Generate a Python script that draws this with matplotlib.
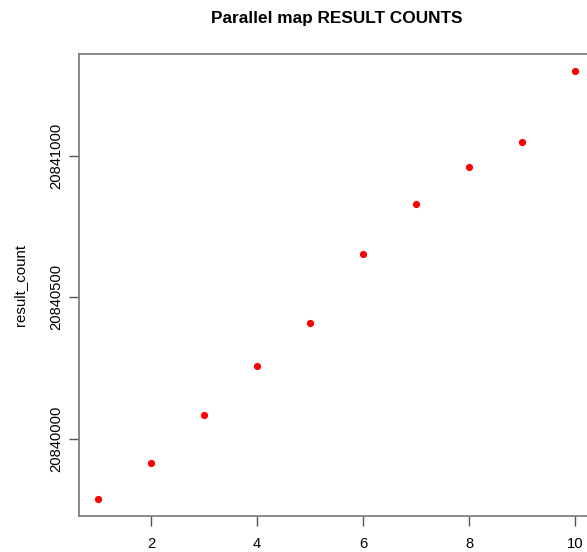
import numpy as np
import matplotlib.pyplot as plt

plt.rcParams['font.family'] = ['Liberation Sans', 'DejaVu Sans']

# run index vs result count
runs = np.arange(1, 11)
result_count = [20839787, 20839915, 20840085, 20840259, 20840408,
                20840652, 20840830, 20840961, 20841050, 20841301]
x_ticks = [2, 4, 6, 8, 10]
y_ticks = [20840000, 20840500, 20841000]

fig = plt.figure(figsize=(5.87, 5.52), dpi=100)
# the plot box runs past the right edge of the picture, like the original
ax = fig.add_axes([0.1346, 0.0652, 0.8773, 0.837])

ax.plot(runs, result_count, 'o', color='red', markersize=5.2, markeredgewidth=0)

# R style 4% padding
lo, hi = min(result_count), max(result_count)
pad = (hi - lo) * 0.04
ax.set_ylim(lo - pad, hi + pad)
ax.set_xlim(1 - 0.36, 10 + 0.36)

ax.set_xticks(x_ticks)
ax.set_xticklabels([str(t) for t in x_ticks])
ax.set_yticks(y_ticks)
ax.set_yticklabels([str(t) for t in y_ticks], rotation=90, va='center')

for s in ax.spines.values():
    s.set_color('#808080')
    s.set_linewidth(1.3)
ax.tick_params(axis='both', direction='out', length=7, width=1, color='#555555',
               labelsize=10.6)
ax.tick_params(axis='x', pad=8)
ax.tick_params(axis='y', pad=4)

ax.set_ylabel('result_count', fontsize=10.8, labelpad=16)
ax.set_title('Parallel map RESULT COUNTS', fontsize=12.4, fontweight='bold', pad=22)

plt.savefig("out.png", dpi=100)
